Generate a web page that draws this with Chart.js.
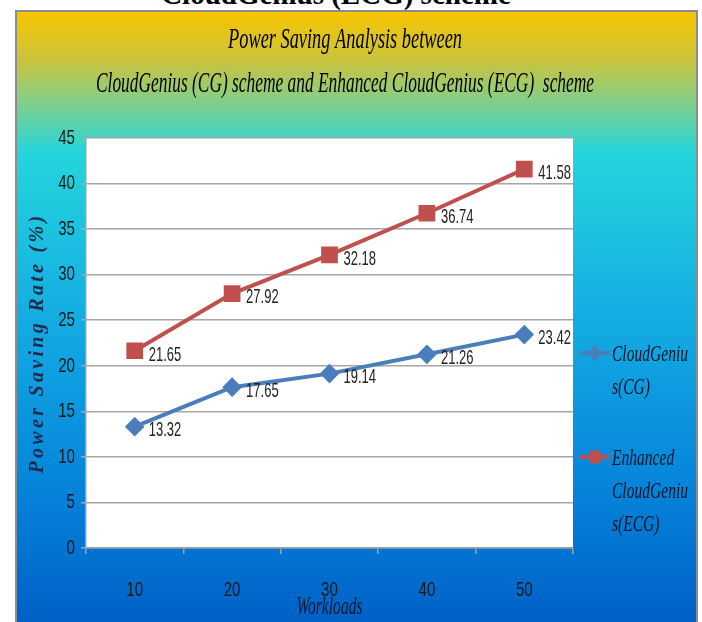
<!DOCTYPE html>
<html>
<head>
<meta charset="utf-8">
<title>Power Saving Analysis</title>
<script src="https://cdn.jsdelivr.net/npm/chart.js@4.4.1/dist/chart.umd.min.js"></script>
<style>
  html, body { margin: 0; padding: 0; background: #fff; overflow: hidden; }
  body { width: 702px; height: 622px; position: relative; }
  #heading {
    position: absolute; left: 0; top: -20px; width: 672px;
    text-align: center; white-space: nowrap; color: #000;
    font: bold 29px/29px 'Liberation Serif', 'Times New Roman', serif;
  }
  #frame {
    position: absolute; left: 15px; top: 10px; width: 679px; height: 612px;
    border: 2px solid #8c8c8c; border-bottom: none;
    background: linear-gradient(to bottom, #f8c400 0%, #c9c43e 8%, #7fcf8c 15%, #24d5dc 23%, #14ace2 50%, #0688dc 75%, #0060c6 100%);
  }
  #chart { display: block; }
</style>
</head>
<body>
<div id="heading">CloudGenius (ECG) scheme</div>
<div id="frame"><canvas id="chart" width="679" height="610"></canvas></div>
<script>
(function () {
  'use strict';

  var WORKLOADS = ['10', '20', '30', '40', '50'];
  var CG_VALUES = [13.32, 17.65, 19.14, 21.26, 23.42];
  var ECG_VALUES = [21.65, 27.92, 32.18, 36.74, 41.58];
  var Y_MIN = 0;
  var Y_MAX = 45;
  var Y_STEP = 5;
  var TITLE_LINES = ['Power Saving Analysis between', 'CloudGenius (CG) scheme and Enhanced CloudGenius (ECG)  scheme'];
  var LEGEND_LINES = [['CloudGeniu', 's(CG)'], ['Enhanced', 'CloudGeniu', 's(ECG)']];
  var X_TITLE = 'Workloads';
  var Y_TITLE = 'Power Saving Rate (%)';

  var BLUE = '#4a7ebb';
  var RED = '#c0504d';
  var SANS = "'Liberation Sans', Arial, sans-serif";
  var SERIF = "'Liberation Serif', 'DejaVu Serif', serif";

  // text squeezed horizontally by sx
  function squeezed(ctx, text, x, y, font, sx, align) {
    ctx.save();
    ctx.font = font;
    ctx.translate(x, y);
    ctx.scale(sx, 1);
    ctx.textAlign = align || 'center';
    ctx.fillText(text, 0, 0);
    ctx.restore();
  }

  function fitScale(ctx, text, font, width) {
    ctx.save();
    ctx.font = font;
    var w = ctx.measureText(text).width;
    ctx.restore();
    return width / w;
  }

  function drawMarker(ctx, style, x, y, r, color) {
    ctx.save();
    ctx.fillStyle = color;
    ctx.beginPath();
    if (style === 'rectRot') {
      ctx.moveTo(x, y - r * 1.1);
      ctx.lineTo(x + r * 0.85, y);
      ctx.lineTo(x, y + r * 1.1);
      ctx.lineTo(x - r * 0.85, y);
      ctx.closePath();
    } else {
      ctx.rect(x - r * 0.7, y - r * 0.8, r * 1.4, r * 1.6);
    }
    ctx.fill();
    ctx.restore();
  }

  var decor = {
    id: 'decor',
    beforeDraw: function (chart) {
      var a = chart.chartArea;
      var ctx = chart.ctx;
      ctx.save();
      ctx.fillStyle = '#ffffff';
      ctx.fillRect(a.left, a.top, a.right - a.left, a.bottom - a.top);
      ctx.restore();
    },
    afterDatasetsDraw: function (chart) {
      var ctx = chart.ctx;
      ctx.save();
      ctx.fillStyle = '#222222';
      ctx.textBaseline = 'middle';
      chart.data.datasets.forEach(function (ds, di) {
        var meta = chart.getDatasetMeta(di);
        meta.data.forEach(function (pt, i) {
          squeezed(ctx, ds.data[i].toFixed(2), pt.x + 14, pt.y + 4, '21px ' + SANS, 0.62, 'left');
        });
      });
      ctx.restore();
    },
    afterDraw: function (chart) {
      var ctx = chart.ctx;
      var a = chart.chartArea;
      var xs = chart.scales.x;
      var ys = chart.scales.y;
      ctx.save();

      // tick labels, placed by the library's scales
      ctx.fillStyle = '#1a1a1a';
      ctx.textBaseline = 'middle';
      ys.ticks.forEach(function (t, i) {
        squeezed(ctx, String(t.value), a.left - 11, ys.getPixelForTick(i), '21px ' + SANS, 0.72, 'right');
      });
      xs.ticks.forEach(function (t, i) {
        squeezed(ctx, WORKLOADS[t.value], xs.getPixelForTick(i), a.bottom + 42, '21px ' + SANS, 0.72, 'center');
      });

      ctx.fillStyle = '#000000';
      ctx.textBaseline = 'alphabetic';
      var tf = 'italic 30px ' + SERIF;
      squeezed(ctx, TITLE_LINES[0], 328, 36, tf, fitScale(ctx, TITLE_LINES[0], tf, 234), 'center');
      squeezed(ctx, TITLE_LINES[1], 328, 80, tf, fitScale(ctx, TITLE_LINES[1], tf, 498), 'center');

      // x axis title, sitting over the middle tick label
      ctx.fillStyle = '#0d1a2e';
      var xf = 'italic 26px ' + SERIF;
      squeezed(ctx, X_TITLE, (a.left + a.right) / 2, 602, xf, fitScale(ctx, X_TITLE, xf, 66), 'center');

      // y axis title
      ctx.save();
      ctx.translate(21, (a.top + a.bottom) / 2);
      ctx.rotate(-Math.PI / 2);
      ctx.font = 'italic bold 20px ' + SERIF;
      ctx.fillStyle = '#1c2b48';
      ctx.textAlign = 'center';
      ctx.textBaseline = 'middle';
      var w0 = ctx.measureText(Y_TITLE).width;
      ctx.letterSpacing = Math.max(0, (262 - w0) / Y_TITLE.length).toFixed(1) + 'px';
      ctx.fillText(Y_TITLE, 0, 0);
      ctx.restore();

      // legend
      var items = [
        { color: BLUE, style: 'rectRot', y: 341, lines: LEGEND_LINES[0] },
        { color: RED, style: 'rect', y: 445, lines: LEGEND_LINES[1] }
      ];
      var lf = 'italic 24px ' + SERIF;
      var sx = fitScale(ctx, 'CloudGeniu', lf, 76);
      items.forEach(function (it) {
        ctx.save();
        ctx.strokeStyle = it.color;
        ctx.lineWidth = 4;
        ctx.beginPath();
        ctx.moveTo(563, it.y);
        ctx.lineTo(593, it.y);
        ctx.stroke();
        ctx.restore();
        drawMarker(ctx, it.style, 578, it.y, 8, it.color);
        ctx.fillStyle = '#0a1628';
        it.lines.forEach(function (ln, k) {
          squeezed(ctx, ln, 595, it.y + 8 + k * 33, lf, sx, 'left');
        });
      });
      ctx.restore();
    }
  };

  var ctx = document.getElementById('chart').getContext('2d');
  new Chart(ctx, {
    type: 'line',
    plugins: [decor],
    data: {
      labels: WORKLOADS,
      datasets: [{
        label: 'CloudGenius(CG)',
        data: CG_VALUES,
        borderColor: BLUE,
        backgroundColor: BLUE,
        borderWidth: 4,
        pointStyle: 'rectRot',
        pointRadius: 7,
        pointHoverRadius: 7,
        tension: 0
      }, {
        label: 'Enhanced CloudGenius(ECG)',
        data: ECG_VALUES,
        borderColor: RED,
        backgroundColor: RED,
        borderWidth: 4,
        pointStyle: 'rect',
        pointRadius: 9,
        pointHoverRadius: 9,
        tension: 0
      }]
    },
    options: {
      responsive: false,
      animation: false,
      events: [],
      layout: { padding: { left: 39, right: 123, top: 126, bottom: 24 } },
      plugins: {
        legend: { display: false },
        title: { display: false },
        tooltip: { enabled: false }
      },
      scales: {
        x: {
          offset: true,
          afterFit: function (s) { s.height = 50; },
          grid: {
            offset: true,
            drawOnChartArea: false,
            drawTicks: true,
            tickLength: 6,
            color: '#a0a0a0',
            lineWidth: 1.5
          },
          border: { color: '#a0a0a0', width: 1.5 },
          ticks: { display: false }
        },
        y: {
          min: Y_MIN,
          max: Y_MAX,
          afterFit: function (s) { s.width = 30; },
          grid: { color: '#a6a6a6', lineWidth: 1.5, tickLength: 5 },
          border: { color: '#a0a0a0', width: 1.5 },
          ticks: { stepSize: Y_STEP, display: false }
        }
      }
    }
  });
})();
</script>
</body>
</html>
